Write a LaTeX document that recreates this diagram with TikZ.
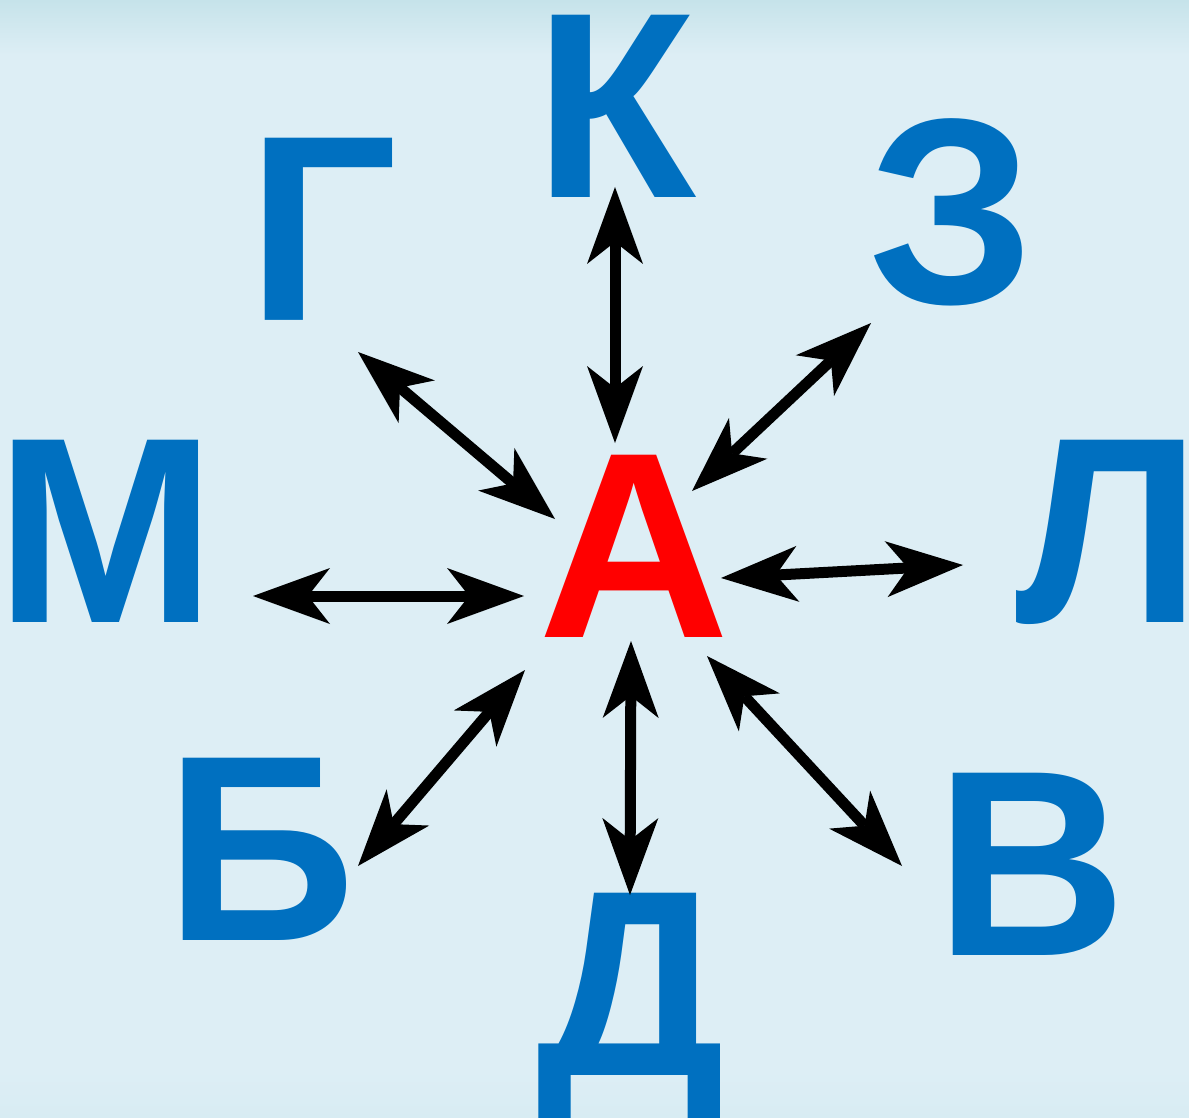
\documentclass[tikz,border=0pt]{standalone}
\usepackage{fontspec}
\setmainfont{Liberation Sans}
\usetikzlibrary{arrows.meta}
\definecolor{bgmid}{HTML}{DDEEF5}
\definecolor{bgtop}{HTML}{C6E3EA}
\definecolor{bgbot}{HTML}{D8ECF3}
\definecolor{letblue}{HTML}{0070C0}
\definecolor{letred}{HTML}{FF0000}
\tikzset{
  letter/.style={font=\fontsize{265}{265}\bfseries\selectfont, text=letblue, inner sep=0pt, anchor=base},
  centre/.style={letter, text=letred},
  dbl/.style={line width=11pt, draw=black,
    {Stealth[length=77pt 0 0, width=56pt 0 0, inset=22pt 0 0, line width=0pt]}-{Stealth[length=77pt 0 0, width=56pt 0 0, inset=22pt 0 0, line width=0pt]}}
}
\begin{document}
\begin{tikzpicture}[x=1pt,y=-1pt]
\useasboundingbox (0,0) rectangle (1189,1118);
\fill[bgmid] (0,0) rectangle (1189,1118);
\shade[top color=bgtop, bottom color=bgmid] (0,0) rectangle (1189,55);
\shade[top color=bgmid, bottom color=bgbot] (0,1070) rectangle (1189,1118);
% letters
\node[letter] (K) at (615,198) {К};
\node[letter] (G) at (323,320) {Г};
\node[letter] (Z) at (951,303) {З};
\node[letter] (M) at (105.5,622) {М};
\node[centre] (A) at (634.5,637) {А};
\node[letter] (L) at (1108.5,622) {Л};
\node[letter] (B) at (260.5,940) {Б};
\node[letter] (D) at (630.5,1075) {Д};
\node[letter] (V) at (1031.5,955) {В};
% arrow tips
\coordinate (k1) at (615,187);   \coordinate (k2) at (615,443);
\coordinate (g1) at (358,352);   \coordinate (g2) at (555,519);
\coordinate (z1) at (871,323);   \coordinate (z2) at (692,491);
\coordinate (m1) at (253,596);   \coordinate (m2) at (524,596);
\coordinate (l1) at (721,578);   \coordinate (l2) at (963,565);
\coordinate (b1) at (525,670);   \coordinate (b2) at (358,866);
\coordinate (d1) at (631,641);   \coordinate (d2) at (630,895);
\coordinate (v1) at (707,656);   \coordinate (v2) at (902,866);
\draw[dbl] (k2) -- (k1);
\draw[dbl] (g2) -- (g1);
\draw[dbl] (z2) -- (z1);
\draw[dbl] (m2) -- (m1);
\draw[dbl] (l1) -- (l2);
\draw[dbl] (b1) -- (b2);
\draw[dbl] (d1) -- (d2);
\draw[dbl] (v1) -- (v2);
\end{tikzpicture}
\end{document}
